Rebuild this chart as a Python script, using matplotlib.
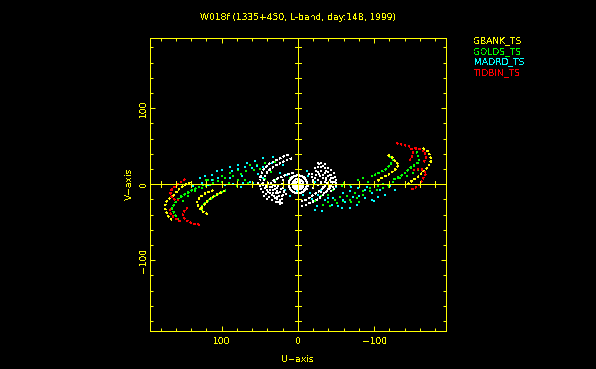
import matplotlib
matplotlib.use("Agg")
import matplotlib.pyplot as plt

TITLE = "W018f (1335+450, L-band, day:148, 1999)"
SERIES_NAMES = ["GBANK_TS", "GOLDS_TS", "MADRD_TS", "TIDBIN_TS"]
SERIES_COLORS = ["#ffff00", "#00ff00", "#00ffff", "#ff0000"]
TICK_VALUES = [100, 0, -100]
TICK_LABELS = ["100", "0", "\u2212100"]
MINOR_TICKS = [-180, -160, -140, -120, -80, -60, -40, -20, 20, 40, 60, 80, 120, 140, 160, 180]
ALL_TICKS = [-180, -160, -140, -120, -100, -80, -60, -40, -20, 20, 40, 60, 80, 100, 120, 140, 160, 180]

# --- GBANK tracks (u, v)
yellow_tracks = [
    [(165.6,-46.6),(170,-42.2),(173,-35.7),(174.3,-29.1),(172.2,-22.6),(167.8,-18.2)],
    [(163.4,-15.1),(156.9,-7.3),(150.3,-2),(141.6,2.4)],
    [(118.8,-39.2),(125,-35.7),(130.6,-29.1),(132.8,-23.9),(128.4,-16.9),(119.7,-10.8),(108.8,-7.3)],
    [(126.3,-31.3),(117.5,-20.4),(106.6,-13.8),(95.7,-8.2)],
    [(-164.3,47.3),(-170.9,43),(-175.2,32),(-170.9,23.3),(-164.3,16.8),(-157.8,10.2),(-151.2,5.8),(-142.4,-0.7)],
    [(-118.4,38.6),(-125,34.2),(-127.1,29.9),(-132.4,25.5),(-127.1,18.9),(-118.4,12.4),(-109.7,8),(-103.1,3.6)],
]
# --- GOLDS tracks
green_tracks = [
    [(126.3,-34.8),(125,-27),(117.5,-21.3),(108.8,-15.1),(100,-10.8),(93.5,-7.3)],
    [(156.9,-46.6),(161.2,-40),(165.6,-31.3),(161.2,-24.8),(154.7,-16.9),(145.9,-11.7),(137.2,-7.3),(128.4,-2.9)],
    [(-155.6,43),(-157.8,36.4),(-159,29.9),(-153.4,25.5),(-146.8,21.1),(-140.3,14.6),(-133.7,10.2),(-125,5.8)],
    [(-120.6,36.4),(-125,32),(-120.6,25.5),(-114,18.9),(-105.3,14.6),(-96.6,10.2)],
]
green_u = [117.5,111,100,89.1,78.2,62.9,54.2,43.2,30.1,124.1,111,100,78.2,65.1,43.2,150.3,143.7,135,126.3,115.3,80.4,10.5,6.1,
           137,120,105,95,85,75,68,58,50,40,120,90,70,52,35,30,
           -157.7,-151.2,-142.4,-133.7,-125,-118.4,-111.9,-103.1,-94.4,-85.6,-76.9,-68.2,-59.4,-50.7,-41.9,-33.2,-79.1,-85.6,-92.2,-68.2,-57.2,-46.3,-39.7,
           -120,-105,-95,-85,-75,-65,-55,-48,-40,-30,-22,-112,-60,-50,-70,-80]
green_v = [5.8,5.8,10.2,14.6,18.9,25.5,25.5,27.7,29.9,-0.7,1.5,3.6,5.8,2.3,6.7,-22.6,-15.1,-9.5,-5.1,-0.7,-2.9,8,1.5,
           -2,-2,4,8,11,14,17,19,20,24,5,1,6,2,16,5,
           18.9,14.6,10.2,8,3.6,-0.7,-5,-7.3,-9.5,-13.8,-18.2,-20.4,-22.6,-24.8,-29.1,-26.9,5.8,8,3.6,-0.7,-2.9,-7.3,-13.8,
           -3,-2,-5,-9,-11,-15,-17,-21,-23,-15,-22,0,1,5,-24,-24]
# --- MADRD scatter
cyan_u = [128.4,121.9,113.2,106.6,100,89.1,78.2,67.3,56.3,45.4,32.3,86.9,78.2,69.5,60.7,54.2,45.4,104.4,89.1,73.8,62.9,137.2,126.3,113.2,84.8,71.6,58.5,45.4,34.5,23.6,14.8,6.1,19.2,10.5,17,1.7,
          118,95,75,52,40,
          -127.1,-120.6,-114,-105.3,-96.6,-87.8,-76.9,-68.2,-57.2,-44.1,-31,-22.3,-15.7,-7,-22.3,-13.5,-11.3,-87.8,-79.1,-68.2,-59.4,-96.6,-107.5,-72.5,-59.4,-46.3,-35.4,-26.6,
          -90,-70,-50,-80,-52,-40,-30,-25,-18,-100,-62]
cyan_v = [8,10.2,12.4,16.8,18.9,23.3,25.5,28.6,31.2,34.2,36.4,16.8,19.8,22.4,21.1,24.2,23.3,8,8,10.2,3.6,-2,2.3,5.8,0.6,1.5,2.3,8,27.7,14.6,12.4,14.6,25.5,-16,-7.3,-9.5,
          -1,-1,-4,13,15,
          -7.3,-2.9,-13.8,-16.9,-20.4,-18.2,-26.9,-31.3,-31.3,-26.9,-35.7,-33.5,-11.7,-13.8,3.6,10.2,16.8,-7.3,-5.1,-9.5,-11.7,-11.7,-7.3,-16.2,-20.4,-18.2,-20.4,-13.8,
          -3,-3,-3,-15,-28,-18,-8,-28,-20,-22,-24]
# --- TIDBIN tracks
red_tracks = [
    [(148.1,6.7),(156.9,0.6),(165.6,-7.3),(167.8,-13.8),(161.2,-20.4),(154.7,-20.4)],
    [(129.3,-53.2),(139.4,-51),(148.1,-46.6),(151.2,-40),(148.1,-33.5),(143.7,-30.4)],
    [(167.8,-32.6),(166.9,-40),(161.2,-44.4),(154.7,-48.8)],
    [(-129.3,53.9),(-138,51.7),(-146.8,49.5),(-151.2,43),(-149,34.2),(-144.6,29.9)],
    [(-153.4,47.3),(-159.9,46),(-166.5,43),(-167.8,34.2),(-164.3,27.7)],
    [(-151.2,18.9),(-162.1,19.8),(-168.7,14.6),(-164.3,8),(-159.9,-0.7),(-153.4,-5),(-146.8,-7.3)],
]
# --- short-baseline (white) arcs and points
white_tracks = [
    [(12.7,38.4),(19.3,36.3),(25.8,32.8),(32.4,29.7),(36.7,27.5),(41.1,23.2),(45.5,18.8),(48.5,12.2),(49.8,5.7)],
    [(8.3,34),(14.9,31.9),(21.4,28.4),(28,25.3),(34.6,21),(39.8,16.6),(43.3,10),(44.2,3.5)],
    [(6.1,14.4),(12.7,13.5),(19.3,10.9),(25.8,7.9),(32.4,4.8)],
    [(-4.4,-28.4),(-10.9,-27.1),(-19.7,-22.7),(-26.2,-19.7),(-32.8,-14),(-39.3,-7.4),(-43.7,-0.9),(-45.9,3.5)],
    [(-4.4,-22.7),(-10.9,-20.6),(-17.5,-16.2),(-24,-11.8),(-30.6,-7.4),(-37.1,-0.9)],
]
white_u = [45.5,43.3,38.9,34.6,30.2,25.8,21.4,38.9,34.6,30.2,25.8,21.4,41.1,36.7,32.4,28,23.6,32.4,28,23.6,19.3,
           46,42,37,33,29,25,21,30,26,22,18,35,30,27,40,36,31,27,23,
           50,48,46,42,38,34,29,24,52,44,40,47,
           -6.6,-13.1,
           -21.9,-26.2,-30.6,-35,-39.3,-43.7,-45.9,-48.1,-26.2,-30.6,-35,-39.3,-41.5,-43.7,-24,-28.4,-32.8,-37.1,-39.3,-30.6,-35,-26.2,-32.8,-26.2,
           -46,-42,-38,-34,-34,-38,-41,-30,-44,-42,-37,-33,-28,-24,-28,-33,-37,-22,-20,-30,-36,-18,-8,-12,
           -50,-50,-48,-47,-43,-39,-35,-30,-26,-50,-47,-43,
           20,21,20,18,15,-18,-20,-21,-20,-15]
white_v = [-0.9,-5.3,-9.6,-14,-18.4,-22.7,-24.9,1.3,-3,-6.6,-10.9,-15.3,-4,-7.4,-11.8,-16.2,-20.6,-0.9,-5.3,-9.6,-14,
           2,-2,-4,-8,-12,-16,-20,-2,-2.5,-6,-10,1,3,-8.5,-7,-11,-15,-19,-23,
           -2,-6,-10,-13,-17,-21,-24,-26,2,-16,-20,0,
           -4,-2.2,
           21,23.2,23.2,21,16.6,12.2,7.9,3.5,16.6,17.9,15.3,10.9,5.7,3.5,12.2,10.9,7.9,5.7,1.3,3.5,-0.9,5.7,-3,-0.9,
           -3,-5,-9,-12,-4,2,-2,-10,8,12,18,24,26,18,14,12,8,8,3,0,3,14,-8,-6,
           1,5,10,15,19,22,26,28,28,-2,-6,-9,
           5,0,-5,-9,-13,9,5,0,-5,13]
ring_outer_u = [12,11,8.5,4.6,0,-4.6,-8.5,-11,-12,-11,-8.5,-4.6,0,4.6,8.5,11,12]
ring_outer_v = [0,4.6,8.5,11,12,11,8.5,4.6,0,-4.6,-8.5,-11,-12,-11,-8.5,-4.6,0]
ring_mid_u = [7,6,3.5,0,-3.5,-6,-7,-6,-3.5,0,3.5,6,7]
ring_mid_v = [0,3.5,6,7,6,3.5,0,-3.5,-6,-7,-6,-3.5,0]
ring_in_u = [3.5,2.5,0,-2.5,-3.5,-2.5,0,2.5,3.5]
ring_in_v = [0,2.5,3.5,2.5,0,-2.5,-3.5,-2.5,0]

W, H = 596, 369
YEL = "#ffff00"
plt.rcParams["text.antialiased"] = False
plt.rcParams["font.family"] = "DejaVu Sans"
FS = 6.6
LW = 0.72

fig = plt.figure(figsize=(W/100, H/100), dpi=100, facecolor="black")
ax = fig.add_axes([150.3/W, 1-331/H, 295.2/W, 293.5/H], facecolor="black")
ax.set_xlim(193.5, -193.5)
ax.set_ylim(-193, 193)

# centre cross with ticks
ax.axhline(0, color=YEL, lw=LW, antialiased=False, zorder=5)
ax.axvline(0, color=YEL, lw=LW, antialiased=False, zorder=5)
ax.vlines(ALL_TICKS, -4, 4, color=YEL, lw=LW, antialiased=False, zorder=5)
ax.hlines(ALL_TICKS, -4, 4, color=YEL, lw=LW, antialiased=False, zorder=5)

def draw_tracks(tracks, color, gap=1.5):
    for t in tracks:
        ax.plot([p[0] for p in t], [p[1] for p in t], color=color, lw=1.0,
                ls=(0, (1.3, gap)), dash_capstyle="butt", antialiased=False, zorder=3)

MS = 1.45
draw_tracks(green_tracks, SERIES_COLORS[1])
ax.plot(green_u, green_v, ls="", marker="s", ms=MS, mew=0, color=SERIES_COLORS[1], antialiased=False, zorder=3)
ax.plot(cyan_u, cyan_v, ls="", marker="s", ms=MS, mew=0, color=SERIES_COLORS[2], antialiased=False, zorder=3)
draw_tracks(yellow_tracks, SERIES_COLORS[0])
draw_tracks(red_tracks, SERIES_COLORS[3])
draw_tracks(white_tracks, "white", gap=1.6)
ax.plot(white_u, white_v, ls="", marker="s", ms=MS, mew=0, color="white", antialiased=False, zorder=4)
ax.plot(ring_outer_u, ring_outer_v, color="white", lw=LW, antialiased=False, zorder=4)
ax.plot(ring_mid_u, ring_mid_v, color="white", lw=LW, antialiased=False, zorder=4)
ax.plot(ring_in_u, ring_in_v, color="white", lw=1.0, antialiased=False, zorder=4)

for s in ax.spines.values():
    s.set_color(YEL); s.set_linewidth(LW); s.set_antialiased(False)
ax.set_xticks(TICK_VALUES, TICK_LABELS)
ax.set_yticks(TICK_VALUES, TICK_LABELS, rotation=90, va="center")
ax.set_xticks(MINOR_TICKS, minor=True)
ax.set_yticks(MINOR_TICKS, minor=True)
ax.tick_params(which="major", direction="in", length=3.8, width=LW, color=YEL,
               labelcolor=YEL, labelsize=FS, top=True, right=True, pad=4.0)
ax.tick_params(axis="y", which="major", pad=1.5)
ax.tick_params(which="minor", direction="in", length=2.2, width=LW, color=YEL, top=True, right=True)
ax.set_xlabel("U\u2212axis", color=YEL, fontsize=FS, labelpad=7.0)
ax.set_ylabel("V\u2212axis", color=YEL, fontsize=FS, labelpad=3.5)
fig.text(298/W, 1-17/H, TITLE, color=YEL, fontsize=FS, ha="center", va="center")
for name, col, y in zip(SERIES_NAMES, SERIES_COLORS, [41, 52, 62, 73]):
    fig.text(474/W, 1-y/H, name, color=col, fontsize=FS, ha="left", va="center")

fig.savefig("out.png", dpi=100, facecolor="black")
